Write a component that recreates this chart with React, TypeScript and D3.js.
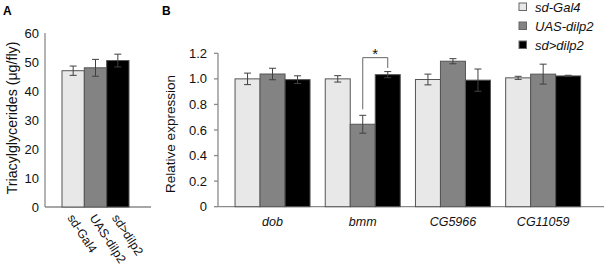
import React from "react";
import * as d3 from "d3";

const genotypes = ["sd-Gal4", "UAS-dilp2", "sd>dilp2"];
const fills = ["#e8e8e8", "#838383", "#000000"];

const tagValues = [47, 48, 50.5];
const tagErrors = [1.6, 2.9, 2.2];
const tagTicks = [0, 10, 20, 30, 40, 50, 60];

const genes = ["dob", "bmm", "CG5966", "CG11059"];
const exprSdGal4 = [1.0, 1.0, 0.995, 1.008];
const exprUasDilp2 = [1.038, 0.645, 1.138, 1.037];
const exprSdDilp2 = [0.994, 1.033, 0.99, 1.023];
const errSdGal4 = [0.045, 0.025, 0.042, 0.012];
const errUasDilp2 = [0.045, 0.07, 0.02, 0.078];
const errSdDilp2 = [0.03, 0.024, 0.087, 0.005];
const exprTicks = [0, 0.2, 0.4, 0.6, 0.8, 1.0, 1.2];

const FONT = "'Liberation Sans', Arial, sans-serif";
const AXIS = "#8a8a8a";
const EB = "#404040";

function ErrorBar({ x, y0, y1, w = 7 }: { x: number; y0: number; y1: number; w?: number }) {
  return (
    <g stroke={EB} strokeWidth={1}>
      <line x1={x} x2={x} y1={y0} y2={y1} />
      <line x1={x - w / 2} x2={x + w / 2} y1={y0} y2={y0} />
      <line x1={x - w / 2} x2={x + w / 2} y1={y1} y2={y1} />
    </g>
  );
}

export default function App() {
  // Panel A
  const yA = d3.scaleLinear().domain([0, 60]).range([207, 33]);
  const xA = d3.scaleBand<string>().domain(genotypes).range([62, 129]).padding(0);

  // Panel B
  const yB = d3.scaleLinear().domain([0, 1.2]).range([206.7, 53.3]);
  const xB0 = d3.scaleBand<string>().domain(genes).range([217, 598.7]).paddingInner(0.1685).paddingOuter(0.2);
  const xB1 = d3.scaleBand<string>().domain(genotypes).range([0, xB0.bandwidth()]).padding(0);
  const series = [exprSdGal4, exprUasDilp2, exprSdDilp2];
  const errs = [errSdGal4, errUasDilp2, errSdDilp2];

  const fmtB = (v: number) => (v === 0 ? "0" : d3.format(".1f")(v));

  // significance bracket for bmm
  const bx = xB0("bmm")!;
  const gxL = bx + xB1("UAS-dilp2")! + xB1.bandwidth() / 2;
  const gxR = bx + xB1("sd>dilp2")! + xB1.bandwidth() / 2;
  const brTop = yB(1.166);
  const brLeftBottom = yB(0.762);
  const brRightBottom = yB(1.085);

  return (
    <svg width={605} height={265} style={{ position: "absolute", left: 0, top: 0, background: "#fff" }}>
      <g fontFamily={FONT}>
        {/* Panel A */}
        <text x={3} y={15} fontSize={12} fontWeight="bold">A</text>
        <line x1={45} x2={45} y1={yA(60)} y2={yA(0)} stroke={AXIS} strokeWidth={1.3} />
        <line x1={45} x2={151} y1={yA(0)} y2={yA(0)} stroke={AXIS} strokeWidth={1.3} />
        {tagTicks.map((t) => (
          <text key={t} x={39} y={yA(t)} dy="0.35em" textAnchor="end" fontSize={13} fill="#111">
            {t}
          </text>
        ))}
        <text transform={`translate(12.5,${(33 + 207) / 2 - 2}) rotate(-90)`} textAnchor="middle" dy="0.35em" fontSize={14.2} fill="#111">
          Triacylglycerides (μg/fly)
        </text>
        {genotypes.map((g, i) => (
          <rect key={g} x={xA(g)!} y={yA(tagValues[i])} width={xA.bandwidth()} height={yA(0) - yA(tagValues[i])} fill={fills[i]} stroke="#555" strokeWidth={1} />
        ))}
        {genotypes.map((g, i) => (
          <ErrorBar key={g} x={xA(g)! + xA.bandwidth() / 2} y0={yA(tagValues[i] + tagErrors[i])} y1={yA(tagValues[i] - tagErrors[i])} />
        ))}
        {genotypes.map((g) => (
          <text key={g} transform={`translate(${xA(g)! + xA.bandwidth() / 2 + 1},${213}) rotate(57)`} fontSize={12.3} dy="0.7em" fill="#111">
            {g}
          </text>
        ))}

        {/* Panel B */}
        <text x={162} y={15} fontSize={12} fontWeight="bold">B</text>
        <line x1={218} x2={218} y1={yB(1.2)} y2={yB(0)} stroke={AXIS} strokeWidth={1.3} />
        <line x1={218} x2={604} y1={yB(0)} y2={yB(0)} stroke={AXIS} strokeWidth={1.3} />
        {exprTicks.map((t) => (
          <g key={t}>
            <line x1={214} x2={218} y1={yB(t)} y2={yB(t)} stroke={AXIS} strokeWidth={1.3} />
            <text x={207} y={yB(t)} dy="0.35em" textAnchor="end" fontSize={13} fill="#111">
              {fmtB(t)}
            </text>
          </g>
        ))}
        <text transform={`translate(170,${(53 + 207) / 2 + 4}) rotate(-90)`} textAnchor="middle" dy="0.35em" fontSize={13.5} fill="#111">
          Relative expression
        </text>
        {genes.map((gene, gi) => (
          <g key={gene} transform={`translate(${xB0(gene)},0)`}>
            {genotypes.map((g, i) => (
              <rect key={g} x={xB1(g)!} y={yB(series[i][gi])} width={xB1.bandwidth()} height={yB(0) - yB(series[i][gi])} fill={fills[i]} stroke="#555" strokeWidth={1} />
            ))}
            {genotypes.map((g, i) => (
              <ErrorBar key={g} x={xB1(g)! + xB1.bandwidth() / 2} y0={yB(series[i][gi] + errs[i][gi])} y1={yB(series[i][gi] - errs[i][gi])} />
            ))}
            <text x={xB0.bandwidth() / 2} y={226} textAnchor="middle" fontSize={12.5} fontStyle="italic" fill="#111">
              {gene}
            </text>
          </g>
        ))}
        <path d={`M${gxL},${brLeftBottom}V${brTop}H${gxR}V${brRightBottom}`} fill="none" stroke="#666" strokeWidth={1} />
        <text x={(gxL + gxR) / 2} y={brTop + 1} textAnchor="middle" fontSize={15} fill="#111">*</text>

        {/* Legend */}
        {genotypes.map((g, i) => (
          <g key={g} transform={`translate(519,${3 + i * 19})`}>
            <rect x={0} y={0} width={7.5} height={7.5} fill={fills[i]} stroke="#666" strokeWidth={1} />
            <text x={16} y={4} dy="0.35em" fontSize={13} fontStyle="italic" fill="#111">
              {g}
            </text>
          </g>
        ))}
      </g>
    </svg>
  );
}
